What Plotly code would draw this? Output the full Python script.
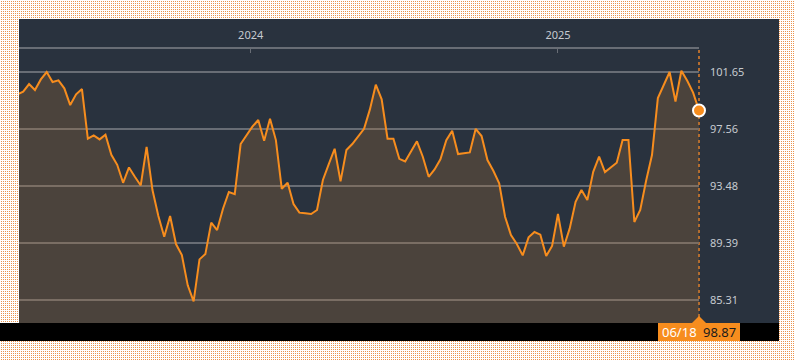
import base64
import pandas as pd
import plotly.graph_objects as go

# ---------------- data ----------------
values = [
    100.03, 100.22, 100.77, 100.34, 101.10, 101.63, 100.91, 101.03, 100.46, 99.26,
    100.03, 100.41, 96.85, 97.09, 96.80, 97.13, 95.70, 94.98, 93.69, 94.79,
    94.12, 93.50, 96.27,
    93.17, 91.31, 89.82, 91.31, 89.30, 88.51, 86.34, 85.19, 88.20, 88.58,
    90.83, 90.30, 91.83, 93.03, 92.88, 96.47, 97.11, 97.71, 98.19, 96.70,
    98.28, 96.75, 93.26, 93.69,
    92.17, 91.55, 91.50, 91.45, 91.74, 93.89, 95.03, 96.13, 93.79, 96.04,
    96.47, 97.04, 97.56, 98.95, 100.72, 99.67, 96.85, 96.85, 95.41, 95.22,
    95.94, 96.66, 95.56,
    94.12, 94.65, 95.37, 96.75, 97.42, 95.75, 95.82, 95.87, 97.56, 97.04,
    95.32, 94.55, 93.65, 91.26, 89.94, 89.30, 88.49, 89.78, 90.16, 89.97,
    88.44, 89.16, 91.45,
    89.11, 90.42, 92.33, 93.17, 92.45, 94.48, 95.56, 94.46, 94.79, 95.13,
    96.75, 96.75, 90.88, 91.74, 93.84, 95.68, 99.76, 100.69, 101.63, 99.52,
    101.72, 101.00, 100.15, 98.87,
]
dates = list(pd.date_range(end="2025-06-18", periods=len(values), freq="7D"))
x_tick_vals = ["2024-01-01", "2025-01-01"]
x_tick_text = ["2024", "2025"]
y_tick_vals = [85.31, 89.39, 93.48, 97.56, 101.65]
y_tick_text = ["85.31", "89.39", "93.48", "97.56", "101.65"]
last_label = "06/18"
last_value_text = "98.87"

# ---------------- styling ----------------
W, H = 795, 360
ML, MR, MT, MB = 19, 96, 49, 37
PW, PH = W - ML - MR, H - MT - MB
DARK = "#29323e"
ORANGE = "#f78d1e"
GRID = "#686d75"
TXT = "#c6cad0"
FONT = "Noto Sans"

# dotted frame background (vector pattern), transparent over the chart panel
def make_frame_svg():
    svg = (
        f'<svg xmlns="http://www.w3.org/2000/svg" width="{W}" height="{H}" '
        f'viewBox="0 0 {W} {H}" shape-rendering="crispEdges">'
        '<defs><pattern id="d" x="0" y="0" width="2" height="2" patternUnits="userSpaceOnUse">'
        '<rect x="0" y="0" width="2" height="2" fill="#ffffff"/>'
        '<rect x="1" y="1" width="1" height="1" fill="#ea944e"/>'
        '</pattern><mask id="m"><rect width="100%" height="100%" fill="white"/>'
        '<rect x="19" y="19" width="760" height="322" fill="black"/></mask></defs>'
        '<rect width="100%" height="100%" fill="url(#d)" mask="url(#m)"/></svg>'
    )
    return "data:image/svg+xml;base64," + base64.b64encode(svg.encode()).decode()

fig = go.Figure()
fig.add_trace(go.Scatter(
    x=dates, y=values, mode="lines",
    line=dict(color=ORANGE, width=2),
    fill="tozeroy", fillcolor="rgba(173,114,54,0.26)",
    hoverinfo="skip", showlegend=False,
))
fig.add_trace(go.Scatter(
    x=[dates[-1]], y=[values[-1]], mode="markers",
    marker=dict(color=ORANGE, size=12, line=dict(color="white", width=2)),
    hoverinfo="skip", showlegend=False, cliponaxis=False,
))

shapes = [
    dict(type="line", xref="paper", yref="paper", x0=1, x1=1, y0=0, y1=1,
         line=dict(color="#b46c2e", width=2, dash="dot"), layer="between"),
    dict(type="rect", xref="paper", yref="paper",
         x0=-ML / PW, x1=(779 - ML) / PW, y0=-18 / PH, y1=0,
         fillcolor="black", line=dict(width=0), layer="above"),
    dict(type="rect", xref="paper", yref="paper",
         x0=1 - 41 / PW, x1=1 + 41 / PW, y0=-18 / PH, y1=0,
         fillcolor=ORANGE, line=dict(width=0), layer="above"),
    dict(type="path", xref="paper", yref="paper", xsizemode="pixel", ysizemode="pixel",
         xanchor=1, yanchor=0, path="M -7 0 L 0 7 L 7 0 Z",
         fillcolor=ORANGE, line=dict(width=0), layer="above"),
]

annotations = [
    dict(xref="paper", yref="paper", x=1, y=-9 / PH, xshift=-20,
         text=last_label, showarrow=False, xanchor="center", yanchor="middle",
         font=dict(family=FONT, size=13, color="white")),
    dict(xref="paper", yref="paper", x=1, y=-9 / PH, xshift=20,
         text=last_value_text, showarrow=False, xanchor="center", yanchor="middle",
         font=dict(family=FONT, size=13, color="#1b1b1b")),
]

fig.update_layout(
    width=W, height=H,
    margin=dict(l=ML, r=MR, t=MT, b=MB, pad=0),
    paper_bgcolor=DARK, plot_bgcolor="rgba(0,0,0,0)",
    font=dict(family=FONT, size=11, color=TXT),
    shapes=shapes, annotations=annotations,
    images=[dict(source=make_frame_svg(), xref="paper", yref="paper",
                 x=-ML / PW, y=1 + MT / PH, sizex=W / PW, sizey=H / PH,
                 xanchor="left", yanchor="top", sizing="stretch", layer="below")],
    xaxis=dict(
        type="date", range=["2023-03-31", "2025-06-18"], side="top",
        showgrid=False, zeroline=False, showline=True, linecolor=GRID, linewidth=1.5,
        ticks="inside", ticklen=4, tickwidth=1, tickcolor=GRID,
        tickvals=x_tick_vals, ticktext=x_tick_text,
        tickfont=dict(family=FONT, size=11, color=TXT),
        ticklabelstandoff=4, fixedrange=True,
    ),
    yaxis=dict(
        range=[83.64, 103.28], side="right",
        showgrid=True, gridcolor=GRID, gridwidth=1.5, zeroline=False, showline=False,
        ticks="", tickvals=y_tick_vals, ticktext=y_tick_text,
        tickfont=dict(family=FONT, size=11, color=TXT),
        ticklabelstandoff=10, fixedrange=True,
    ),
    showlegend=False,
)

fig.write_html("out.html", config={"displayModeBar": False},
               post_script="document.body.style.margin='0';document.body.style.padding='0';")
